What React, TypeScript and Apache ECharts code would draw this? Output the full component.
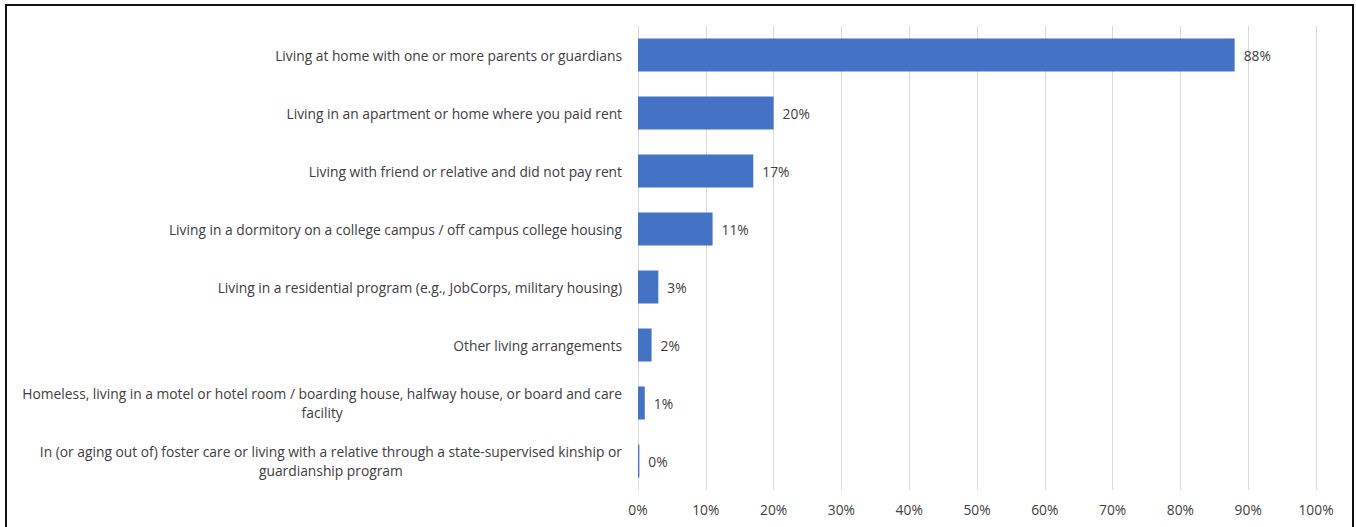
import React, { useEffect, useRef } from "react";
import * as echarts from "echarts";

const categories: string[] = [
  "Living at home with one or more parents or guardians",
  "Living in an apartment or home where you paid rent",
  "Living with friend or relative and did not pay rent",
  "Living in a dormitory on a college campus / off campus college housing",
  "Living in a residential program (e.g., JobCorps, military housing)",
  "Other living arrangements",
  "Homeless, living in a motel or hotel room / boarding house, halfway house, or board and care\nfacility",
  "In (or aging out of) foster care or living with a relative through a state-supervised kinship or\nguardianship program",
];
const values: number[] = [88, 20, 17, 11, 3, 2, 1, 0.2];
const valueLabels: string[] = ["88%", "20%", "17%", "11%", "3%", "2%", "1%", "0%"];

const FONT = "'Open Sans', 'Liberation Sans', Arial, sans-serif";
const FS = 13.8;

export default function App() {
  const ref = useRef<HTMLDivElement>(null);
  useEffect(() => {
    if (!ref.current) return;
    const chart = echarts.init(ref.current, null, { renderer: "svg" });
    chart.setOption({
      animation: false,
      backgroundColor: "#ffffff",
      grid: { left: 638, right: 40, top: 26, bottom: 37, containLabel: false },
      xAxis: {
        type: "value",
        min: 0,
        max: 100,
        interval: 10,
        axisLine: { show: false },
        axisTick: { show: false },
        splitLine: { show: true, lineStyle: { color: "#d9d9d9", width: 1 } },
        axisLabel: {
          formatter: "{value}%",
          color: "#404040",
          fontFamily: FONT,
          fontSize: FS,
          margin: 12,
        },
      },
      yAxis: {
        type: "category",
        inverse: true,
        data: categories,
        axisLine: { show: false },
        axisTick: { show: false },
        axisLabel: {
          color: "#404040",
          fontFamily: FONT,
          fontSize: FS,
          margin: 16,
          lineHeight: 19,
          formatter: (v: string) =>
            v
              .split("\n")
              .map((l) => "{c|" + l + "}")
              .join("\n"),
          rich: {
            c: {
              align: "center",
              color: "#404040",
              fontFamily: FONT,
              fontSize: FS,
              lineHeight: 19,
            },
          },
        },
      },
      series: [
        {
          type: "bar",
          data: values,
          barWidth: 33,
          itemStyle: { color: "#4472C4" },
          label: {
            show: true,
            position: "right",
            distance: 9,
            color: "#404040",
            fontFamily: FONT,
            fontSize: FS,
            formatter: (p: any) => valueLabels[p.dataIndex],
          },
        },
      ],
    });
    return () => chart.dispose();
  }, []);

  return (
    <div
      style={{
        position: "fixed",
        left: 0,
        top: 0,
        width: 1356,
        height: 527,
        overflow: "hidden",
        background: "#fff",
      }}
    >
      <div ref={ref} style={{ position: "absolute", left: 0, top: 0, width: 1356, height: 527 }} />
      <div
        style={{
          position: "absolute",
          left: 5,
          top: 4,
          width: 1349,
          height: 560,
          border: "2px solid #111",
          boxSizing: "border-box",
          pointerEvents: "none",
        }}
      />
    </div>
  );
}
